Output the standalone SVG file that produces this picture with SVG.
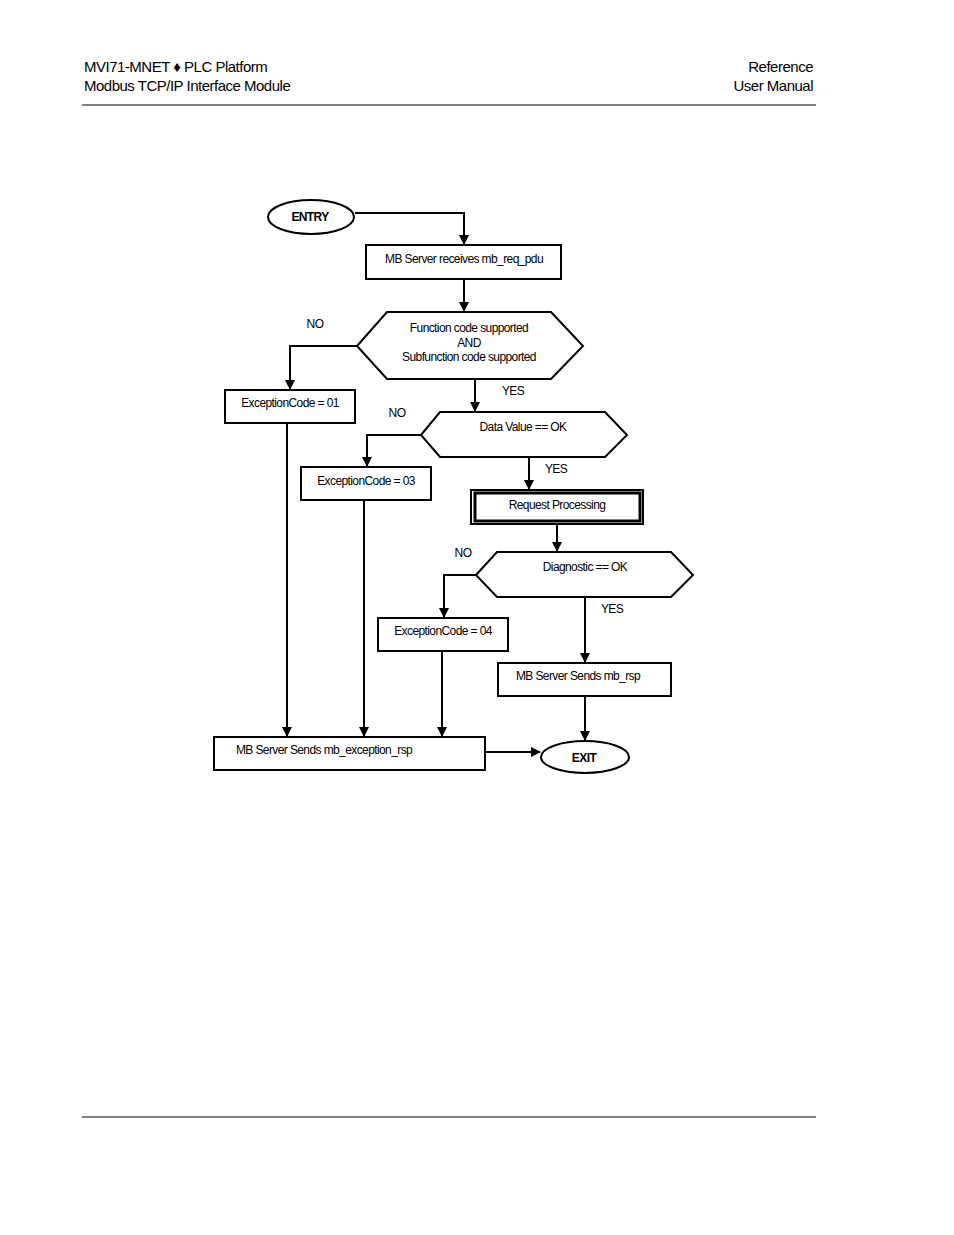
<svg xmlns="http://www.w3.org/2000/svg" width="954" height="1235" viewBox="0 0 954 1235">
<defs>
<marker id="ar" markerWidth="10" markerHeight="10" refX="9" refY="5" orient="auto" markerUnits="userSpaceOnUse"><path d="M0,0 L10,5 L0,10 Z" fill="#000"/></marker>
<style>
.s{fill:#fff;stroke:#000;stroke-width:2}
.t{font-family:"Liberation Sans",Arial,sans-serif;font-size:12px;text-anchor:middle;letter-spacing:-0.6px}
.h{font-family:"Liberation Sans",Arial,sans-serif;font-size:15px;letter-spacing:-0.5px}
.c{fill:none;stroke:#000;stroke-width:2;marker-end:url(#ar)}
</style>
</defs>
<rect width="954" height="1235" fill="#fff"/>
<g id="header">
<text class="h" x="84" y="72">MVI71-MNET ♦ PLC Platform</text>
<text class="h" x="84" y="91">Modbus TCP/IP Interface Module</text>
<text class="h" x="813" y="72" text-anchor="end">Reference</text>
<text class="h" x="813" y="91" text-anchor="end">User Manual</text>
<line x1="82" y1="105" x2="816" y2="105" stroke="#000"/>
<line x1="82" y1="1117" x2="816" y2="1117" stroke="#000"/>
</g>
<g id="connectors">
<path class="c" d="M355,213 H464 V244"/>
<path class="c" d="M464,279 V311"/>
<path class="c" d="M357,346 H290 V389"/>
<path class="c" d="M475,379 V411"/>
<path class="c" d="M421,435 H367 V466"/>
<path class="c" d="M529,457 V489"/>
<path class="c" d="M557,524 V551"/>
<path class="c" d="M476,575 H444 V617"/>
<path class="c" d="M585,597 V662"/>
<path class="c" d="M585,696 V740"/>
<path class="c" d="M287,423 V736"/>
<path class="c" d="M364,500 V736"/>
<path class="c" d="M442,651 V736"/>
<path class="c" d="M485,752 H540"/>
</g>
<g id="labels" class="t">
<text x="315" y="328">NO</text>
<text x="513" y="395">YES</text>
<text x="397" y="417">NO</text>
<text x="556" y="473">YES</text>
<text x="463" y="557">NO</text>
<text x="612" y="613">YES</text>
</g>
<g id="entry"><ellipse class="s" cx="311" cy="217" rx="43" ry="17"/><text class="t" x="310" y="221" font-weight="bold">ENTRY</text></g>
<g id="receive"><rect class="s" x="366" y="245" width="195" height="34"/><text class="t" x="464" y="263">MB Server receives mb_req_pdu</text></g>
<g id="func"><polygon class="s" points="357,346 387,312 551,312 583,346 551,379 387,379"/>
<text class="t" x="469" y="332">Function code supported</text><text class="t" x="469" y="347">AND</text><text class="t" x="469" y="361">Subfunction code  supported</text></g>
<g id="exc01"><rect class="s" x="225" y="390" width="130" height="33"/><text class="t" x="290" y="407">ExceptionCode = 01</text></g>
<g id="dataval"><polygon class="s" points="421,435 440,412 605,412 627,435 605,457 440,457"/><text class="t" x="523" y="431" font-size="15">Data Value == OK</text></g>
<g id="exc03"><rect class="s" x="301" y="467" width="130" height="33"/><text class="t" x="366" y="485">ExceptionCode = 03</text></g>
<g id="reqproc"><rect class="s" x="471" y="490" width="172" height="34"/><rect x="475" y="493" width="165" height="28" fill="none" stroke="#000" stroke-width="3"/><text class="t" x="557" y="509">Request Processing</text></g>
<g id="diag"><polygon class="s" points="476,575 497,552 671,552 693,575 671,597 497,597"/><text class="t" x="585" y="571" font-size="15">Diagnostic == OK</text></g>
<g id="exc04"><rect class="s" x="378" y="618" width="130" height="33"/><text class="t" x="443" y="635">ExceptionCode = 04</text></g>
<g id="rsp"><rect class="s" x="498" y="663" width="173" height="33"/><text class="t" x="578" y="680">MB Server Sends mb_rsp</text></g>
<g id="excrsp"><rect class="s" x="214" y="737" width="271" height="33"/><text class="t" x="324" y="754">MB Server Sends mb_exception_rsp</text></g>
<g id="exit"><ellipse class="s" cx="585" cy="757" rx="44" ry="16"/><text class="t" x="584" y="762" font-weight="bold">EXIT</text></g>
</svg>
